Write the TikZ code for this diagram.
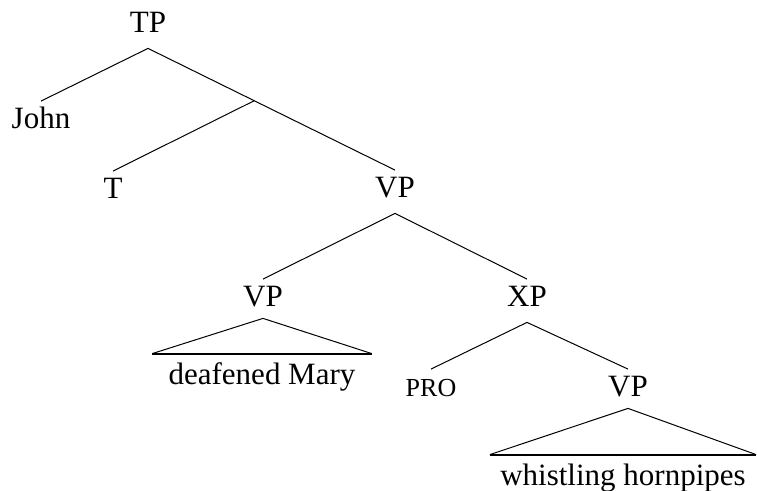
\documentclass[tikz,border=0pt]{standalone}
\usepackage{fontspec}
\setmainfont{Liberation Serif}
\usetikzlibrary{calc}
\tikzset{%
  cat/.style={anchor=base,text height=10.25pt,text depth=4pt,inner xsep=1pt,inner ysep=3.5pt,font=\fontsize{15.5}{18}\selectfont},
  leaf/.style={anchor=base,text height=10.5pt,text depth=0pt,inner xsep=5pt,inner ysep=5pt,font=\fontsize{15.5}{18}\selectfont},
  branch/.style={line width=0.5pt},
  roofbase/.style={line width=1pt}
}
\begin{document}
\begin{tikzpicture}[x=0.5pt,y=-0.5pt]

    \useasboundingbox (0,0) rectangle (757,491); % Canvas

    % Category labels
    \node[cat] (TP) at (148,33) {TP};
    \node[cat] (John) at (41,129) {John};
    \node[cat] (T) at (113,199) {T};
    \node[cat] (VPa) at (395,198) {VP};
    \node[cat] (VPb) at (263,307) {VP};
    \node[cat] (XP) at (527,307) {XP};
    \node[cat,font=\fontsize{13}{15}\selectfont] (PRO) at (431,397) {PRO};
    \node[cat] (VPc) at (628,397) {VP};

    % Leaves under a roof
    \node[leaf,inner xsep=8pt] (dm) at (262,385) {deafened Mary};
    \node[leaf] (wh) at (623,486) {whistling hornpipes};

    % Branches
    \coordinate (Tbar) at ($(TP.south)!.43!(VPa.north)$);
    \foreach \a/\b in {TP/John,TP/VPa,VPa/VPb,VPa/XP,XP/PRO,XP/VPc}
        {
        \draw[branch] (\a.south) -- (\b.north);
        }
    \draw[branch] (Tbar) -- (T.north);

    %%%%Roofs
    \foreach \r/\l in {VPb/dm,VPc/wh}
        {
        \draw[branch] (\l.north west) -- ([yshift=2pt]\r.south) -- (\l.north east);
        \draw[roofbase] (\l.north west) -- (\l.north east);
        }

\end{tikzpicture}
\end{document}
